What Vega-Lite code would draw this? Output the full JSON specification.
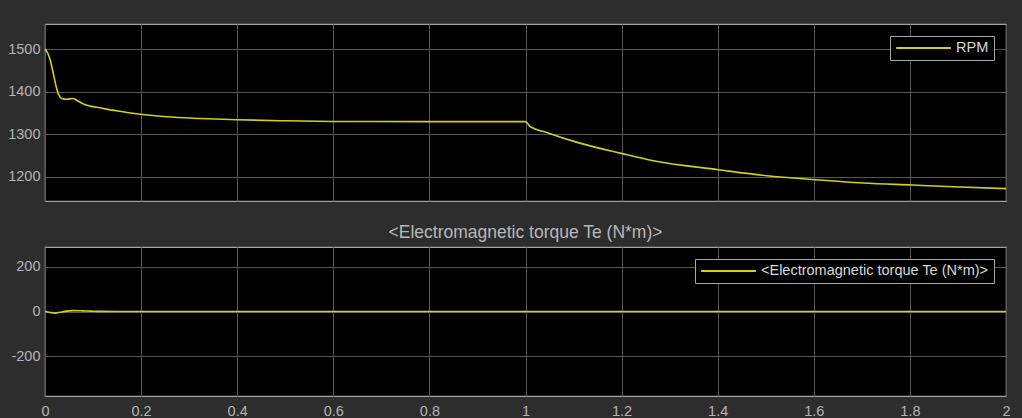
{
  "$schema": "https://vega.github.io/schema/vega-lite/v6.json",
  "autosize": {"type": "none"},
  "padding": {"left": 45, "top": 24, "right": 977, "bottom": 394},
  "background": "#2d2d2d",
  "bounds": "flush",
  "spacing": 46,
  "datasets": {
    "rpm": [
      {"t": 0, "v": 1500}, {"t": 0.005, "v": 1492}, {"t": 0.0104, "v": 1476}, {"t": 0.017, "v": 1444},
      {"t": 0.023, "v": 1413}, {"t": 0.028, "v": 1394}, {"t": 0.035, "v": 1384}, {"t": 0.045, "v": 1382},
      {"t": 0.058, "v": 1384}, {"t": 0.066, "v": 1380}, {"t": 0.08, "v": 1371}, {"t": 0.094, "v": 1366},
      {"t": 0.114, "v": 1362}, {"t": 0.149, "v": 1355}, {"t": 0.198, "v": 1347}, {"t": 0.253, "v": 1341},
      {"t": 0.323, "v": 1337}, {"t": 0.4, "v": 1334}, {"t": 0.5, "v": 1331.5}, {"t": 0.6, "v": 1330},
      {"t": 0.8, "v": 1329.5}, {"t": 1.0, "v": 1329.5}, {"t": 1.009, "v": 1319}, {"t": 1.044, "v": 1304},
      {"t": 1.113, "v": 1279}, {"t": 1.197, "v": 1255.5}, {"t": 1.266, "v": 1237.6}, {"t": 1.401, "v": 1216.6},
      {"t": 1.502, "v": 1202.3}, {"t": 1.603, "v": 1193}, {"t": 1.703, "v": 1185.3}, {"t": 1.804, "v": 1180.6},
      {"t": 1.89, "v": 1176.6}, {"t": 2.0, "v": 1172}
    ],
    "te": [
      {"t": 0, "v": 0}, {"t": 0.0104, "v": -4}, {"t": 0.021, "v": -7}, {"t": 0.031, "v": -3},
      {"t": 0.045, "v": 2}, {"t": 0.058, "v": 4}, {"t": 0.079, "v": 3}, {"t": 0.094, "v": 2},
      {"t": 0.114, "v": 0.5}, {"t": 0.2, "v": 0}, {"t": 0.6, "v": 0}, {"t": 1.0, "v": 0},
      {"t": 1.4, "v": 0}, {"t": 2.0, "v": 0}
    ]
  },
  "vconcat": [
    {
      "width": 961,
      "height": 177,
      "data": {"name": "rpm"},
      "mark": {"type": "line", "strokeWidth": 1.6, "interpolate": "monotone"},
      "encoding": {
        "x": {"field": "t", "type": "quantitative",
              "scale": {"domain": [0, 2], "nice": false, "zero": false},
              "axis": {"labels": false, "title": null, "values": [0, 0.2, 0.4, 0.6, 0.8, 1, 1.2, 1.4, 1.6, 1.8, 2]}},
        "y": {"field": "v", "type": "quantitative",
              "scale": {"domain": [1143, 1559], "nice": false, "zero": false},
              "axis": {"title": null, "values": [1200, 1300, 1400, 1500], "format": "d", "labelPadding": 5}},
        "color": {"datum": "RPM", "type": "nominal", "scale": {"range": ["#d2cf1e"]},
                  "legend": {"title": null, "orient": "top-right", "offset": 12}}
      }
    },
    {
      "width": 961,
      "height": 149,
      "title": {"text": "<Electromagnetic torque Te (N*m)>", "color": "#b8b8b8", "fontSize": 17.5, "fontWeight": "normal", "font": "Liberation Sans", "offset": 6, "anchor": "middle"},
      "data": {"name": "te"},
      "mark": {"type": "line", "strokeWidth": 1.6, "interpolate": "monotone"},
      "encoding": {
        "x": {"field": "t", "type": "quantitative",
              "scale": {"domain": [0, 2], "nice": false, "zero": false},
              "axis": {"title": null, "values": [0, 0.2, 0.4, 0.6, 0.8, 1, 1.2, 1.4, 1.6, 1.8, 2], "format": "~g", "labelFlush": false, "labelPadding": 8}},
        "y": {"field": "v", "type": "quantitative",
              "scale": {"domain": [-377, 288], "nice": false, "zero": false},
              "axis": {"title": null, "values": [-200, 0, 200], "labelExpr": "datum.value + ''", "labelPadding": 5}},
        "color": {"datum": "<Electromagnetic torque Te (N*m)>", "type": "nominal", "scale": {"range": ["#d2cf1e"]},
                  "legend": {"title": null, "orient": "top-right", "offset": 12}}
      }
    }
  ],
  "resolve": {"scale": {"color": "independent"}, "legend": {"color": "independent"}},
  "config": {
    "font": "Liberation Sans",
    "view": {"fill": "#000000", "stroke": "#a3a3a3", "strokeWidth": 1.2},
    "axis": {
      "grid": true,
      "gridColor": "#585858",
      "gridWidth": 1,
      "domain": false,
      "ticks": false,
      "labelColor": "#b4b4b4",
      "labelFontSize": 14.5,
      "labelFont": "Liberation Sans",
      "labelFlush": false
    },
    "legend": {
      "symbolType": "stroke",
      "symbolSize": 3000,
      "symbolStrokeWidth": 2,
      "clipHeight": 14,
      "labelColor": "#d8d8d8",
      "labelFontSize": 14.5,
      "labelFont": "Liberation Sans",
      "labelOffset": 4,
      "labelLimit": 0,
      "padding": 5,
      "strokeColor": "#a8a8a8",
      "fillColor": "#000000",
      "cornerRadius": 0
    }
  }
}
